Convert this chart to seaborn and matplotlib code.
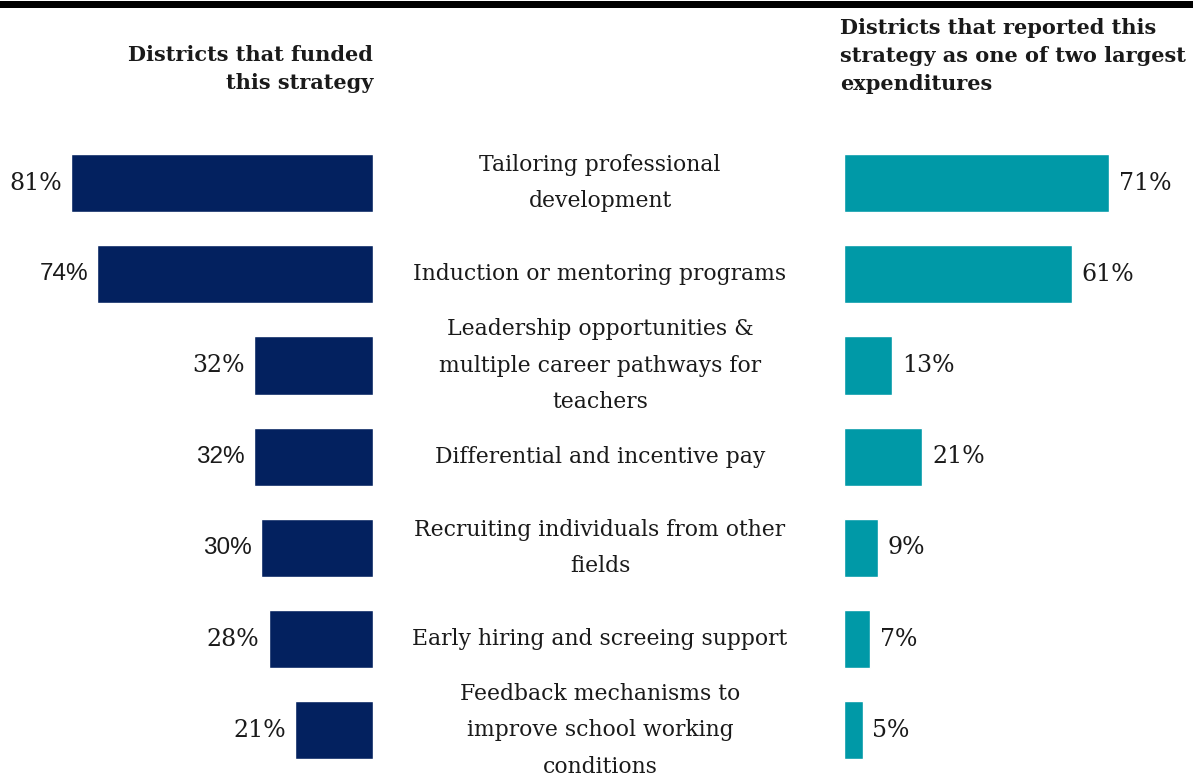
import matplotlib
matplotlib.use("Agg")
import matplotlib.pyplot as plt
import matplotlib.transforms as mtransforms
from matplotlib.patches import Rectangle
import seaborn as sns
import pandas as pd

# Strategy names and the two shares of districts (percent)
strategies = [
    "Tailoring professional\ndevelopment",
    "Induction or mentoring programs",
    "Leadership opportunities &\nmultiple career pathways for\nteachers",
    "Differential and incentive pay",
    "Recruiting individuals from other\nfields",
    "Early hiring and screeing support",
    "Feedback mechanisms to\nimprove school working\nconditions",
]
funded_pct = [81, 74, 32, 32, 30, 28, 21]
largest_pct = [71, 61, 13, 21, 9, 7, 5]

left_title = "Districts that funded\nthis strategy"
right_title = "Districts that reported this\nstrategy as one of two largest\nexpenditures"

NAVY = "#03215f"
TEAL = "#0099a7"
TEXT = "#1a1a1a"
SERIF = "DejaVu Serif"
SANS = "Liberation Sans"
# a few left-hand value labels are set in a sans face
left_label_fonts = [SERIF, SANS, SERIF, SANS, SANS, SERIF, SERIF]

sns.set_theme(style="white")
plt.rcParams["font.family"] = [SERIF]

df = pd.DataFrame({"strategy": strategies, "funded": funded_pct, "largest": largest_pct})

W, H = 1193, 777
fig = plt.figure(figsize=(W / 100, H / 100), dpi=100)

ax_bottom = 0.9 / H
ax_height = 638.7 / H
px_per_pct = 3.73

# Left panel: bars grow leftward from x=373px
left_w = 373 / W
ax_l = fig.add_axes([0, ax_bottom, left_w, ax_height])
sns.barplot(data=df, x="funded", y="strategy", orient="h", color=NAVY,
            width=0.636, ax=ax_l, saturation=1)
ax_l.set_xlim(373 / px_per_pct, 0)

# Right panel: bars grow rightward from x=844px
right_x0 = 844 / W
ax_r = fig.add_axes([right_x0, ax_bottom, 1 - right_x0, ax_height])
sns.barplot(data=df, x="largest", y="strategy", orient="h", color=TEAL,
            width=0.636, ax=ax_r, saturation=1)
ax_r.set_xlim(0, (W - 844) / px_per_pct)

for ax in (ax_l, ax_r):
    ax.set_ylim(len(strategies) - 0.5, -0.5)
    ax.set_axis_off()

# Value labels beside each bar
for i, v in enumerate(funded_pct):
    fam = left_label_fonts[i]
    ax_l.annotate(f"{v}%", xy=(v, i), xytext=(-6.5, 0), textcoords="offset points",
                  ha="right", va="center", fontsize=17.5 if fam == SANS else 17,
                  color=TEXT, family=fam)
for i, v in enumerate(largest_pct):
    ax_r.annotate(f"{v}%", xy=(v, i), xytext=(7, 0), textcoords="offset points",
                  ha="left", va="center", fontsize=17, color=TEXT)

# Strategy names in the middle column
trans = mtransforms.blended_transform_factory(fig.transFigure, ax_r.transData)
for i, name in enumerate(strategies):
    fig.text(600 / W, i, name, transform=trans, ha="center", va="center",
             fontsize=15.75, color=TEXT, linespacing=1.84, multialignment="center")

# Column headers
fig.text(373 / W, 1 - 69 / H, left_title, ha="right", va="center",
         fontsize=15, fontweight="bold", color=TEXT, linespacing=1.48,
         multialignment="right")
fig.text(840 / W, 1 - 56 / H, right_title, ha="left", va="center",
         fontsize=15, fontweight="bold", color=TEXT, linespacing=1.48,
         multialignment="left")

# Heavy rule across the top
fig.add_artist(Rectangle((0, 1 - 7.5 / H), 1, 6.5 / H, transform=fig.transFigure,
                         facecolor="black", edgecolor="none"))

fig.savefig("out.png", dpi=100)
